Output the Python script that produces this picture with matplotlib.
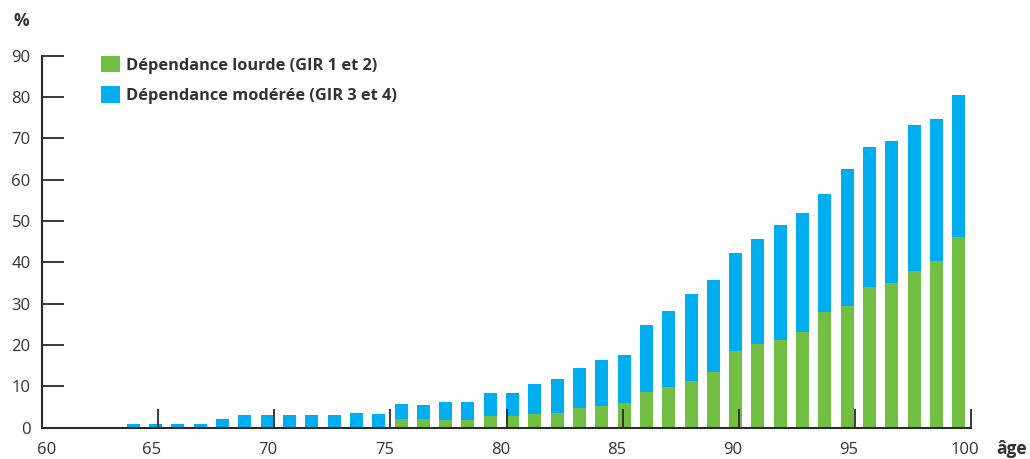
import matplotlib
matplotlib.use("Agg")
import matplotlib.pyplot as plt
from matplotlib.patches import Patch
from matplotlib.transforms import ScaledTranslation
from matplotlib import font_manager

# ---- data ----
ages = list(range(63, 101))
lourde = [0, 0, 0, 0, 0, 0, 0, 0, 0, 0, 0, 0,
          2.1, 2.1, 1.9, 1.9, 2.8, 2.8, 3.3, 3.6, 4.8, 5.2, 6.0,
          8.7, 9.9, 11.3, 13.5, 18.6, 20.3, 21.2, 23.2, 28.0, 29.5, 34.0, 35.0, 37.9, 40.3, 46.1]
moderee = [0.9, 0.9, 0.9, 0.9, 2.1, 3.1, 3.1, 3.1, 3.1, 3.1, 3.6, 3.3,
           3.6, 3.4, 4.3, 4.3, 5.6, 5.6, 7.3, 8.2, 9.6, 11.1, 11.6,
           16.1, 18.3, 21.0, 22.2, 23.7, 25.3, 27.8, 28.8, 28.5, 33.1, 33.9, 34.4, 35.3, 34.4, 34.4]
series_labels = ["Dépendance lourde (GIR 1 et 2)", "Dépendance modérée (GIR 3 et 4)"]
x_ticks = [60, 65, 70, 75, 80, 85, 90, 95, 100]
y_ticks = [0, 10, 20, 30, 40, 50, 60, 70, 80, 90]

GREEN = "#72BF44"
BLUE = "#00AEEF"
DARK = "#2b2b2b"
TXT = "#333333"

avail = {f.name for f in font_manager.fontManager.ttflist}
family = "Liberation Sans Narrow" if "Liberation Sans Narrow" in avail else "Open Sans"
plt.rcParams["font.family"] = [family, "DejaVu Sans"]

fig = plt.figure(figsize=(10.30, 4.59), dpi=100)
W, H = 1030, 459
ax = fig.add_axes([41.8 / W, 31.3 / H, (971.3 - 41.8) / W, 372.0 / H])

# bar positions (layout): bars are drawn slightly tighter than the year scale
pos = [63.94 + 0.96 * (a - ages[0]) for a in ages]
ax.bar(pos, lourde, width=0.56, color=GREEN, linewidth=0)
ax.bar(pos, moderee, width=0.56, bottom=lourde, color=BLUE, linewidth=0)

ax.set_xlim(60, 100)
ax.set_ylim(0, 90)
for s in ["top", "right"]:
    ax.spines[s].set_visible(False)
for s in ["left", "bottom"]:
    ax.spines[s].set_color(DARK)
    ax.spines[s].set_linewidth(1.5)

ax.set_yticks(y_ticks)
ax.set_yticklabels([str(v) for v in y_ticks])
ax.tick_params(axis="y", direction="in", length=15.5, width=1.3, color=DARK,
               labelsize=12, labelcolor=TXT, pad=8)
ax.set_xticks(x_ticks)
ax.set_xticklabels([str(v) for v in x_ticks])
ax.tick_params(axis="x", direction="in", length=14, width=1.3, color=DARK,
               labelsize=12, labelcolor=TXT, pad=10)
for lbl, v in zip(ax.get_xticklabels(), x_ticks):
    dx = 5 if v == 60 else -6
    lbl.set_transform(lbl.get_transform() + ScaledTranslation(dx / 100, 0, fig.dpi_scale_trans))

handles = [Patch(facecolor=GREEN, edgecolor="none"), Patch(facecolor=BLUE, edgecolor="none")]
leg = fig.legend(handles, series_labels, loc="upper left",
                 bbox_to_anchor=(101 / W, 1 - 56 / H), frameon=False,
                 prop={"size": 11.8, "weight": "bold"},
                 handlelength=1.15, handleheight=1.15, handletextpad=0.35,
                 labelspacing=0.78, borderaxespad=0, borderpad=0)
for t in leg.get_texts():
    t.set_color(TXT)

fig.text(21 / W, 1 - 21 / H, "%", ha="center", va="center", fontsize=12.5,
         fontweight="bold", color=TXT)
fig.text(1027 / W, 1 - 449 / H, "âge", ha="right", va="center", fontsize=12.5,
         fontweight="bold", color=TXT)

fig.savefig("out.png", dpi=100)
